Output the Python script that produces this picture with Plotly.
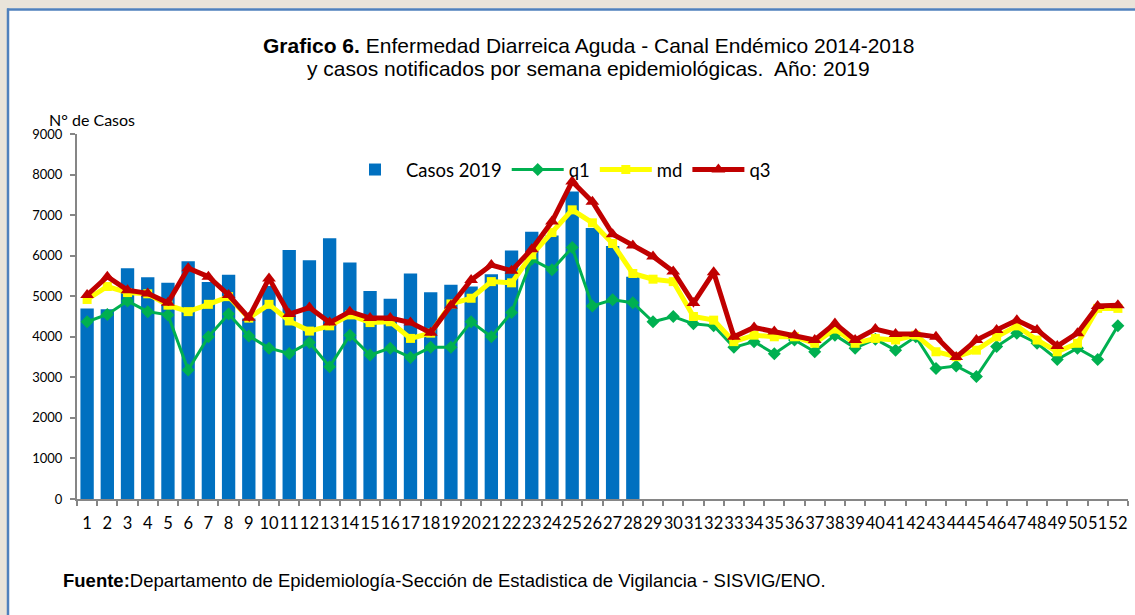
import plotly.graph_objects as go

weeks = [str(i) for i in range(1, 53)]

casos_2019 = [4700, 4680, 5690, 5470, 5330, 5860, 5350, 5530, 4450, 5250,
              6140, 5890, 6430, 5830, 5130, 4940, 5560, 5100, 5280, 5240,
              5540, 6130, 6590, 6500, 7580, 6680, 6240, 5480]

q1 = [4370, 4550, 4880, 4620, 4540, 3180, 4000, 4560, 4020, 3720,
      3590, 3860, 3260, 4040, 3550, 3720, 3490, 3740, 3740, 4370,
      4000, 4600, 5910, 5650, 6200, 4760, 4910, 4840, 4370, 4500,
      4320, 4270, 3740, 3880, 3580, 3920, 3630, 4040, 3720, 3940,
      3670, 4000, 3220, 3280, 3020, 3760, 4090, 3840, 3440, 3720,
      3440, 4270]

md = [4920, 5240, 5090, 5060, 4780, 4620, 4800, 4990, 4460, 4800,
      4390, 4140, 4270, 4540, 4350, 4370, 3960, 4090, 4810, 4950,
      5360, 5330, 6020, 6570, 7130, 6810, 6300, 5560, 5420, 5360,
      4500, 4410, 3880, 4040, 4000, 4000, 3840, 4190, 3840, 3960,
      3920, 4040, 3630, 3510, 3670, 4000, 4270, 3920, 3630, 3840,
      4700, 4700]

q3 = [5030, 5480, 5150, 5070, 4840, 5690, 5480, 5030, 4470, 5440,
      4560, 4720, 4350, 4620, 4460, 4460, 4350, 4100, 4770, 5400,
      5770, 5630, 6160, 6840, 7830, 7330, 6530, 6250, 5980, 5610,
      4830, 5590, 4000, 4230, 4130, 4040, 3920, 4330, 3920, 4190,
      4070, 4070, 4000, 3500, 3920, 4170, 4410, 4170, 3770, 4090,
      4760, 4780]

W, H = 1135, 615
ML, MR, MT, MB = 77, 7, 134, 116
PW = W - ML - MR
PH = H - MT - MB


def px(x):
    return (x - ML) / PW


def py(y):
    return (H - MB - y) / PH


fig = go.Figure()
fig.add_trace(go.Bar(x=weeks[:len(casos_2019)], y=casos_2019, name="Casos 2019",
                     marker=dict(color="#0070C0", line=dict(width=0)), width=0.66))
fig.add_trace(go.Scatter(x=weeks, y=q1, name="q1", mode="lines+markers",
                         line=dict(color="#00B050", width=3),
                         marker=dict(symbol="diamond", size=10, color="#00B050")))
fig.add_trace(go.Scatter(x=weeks, y=md, name="md", mode="lines+markers",
                         line=dict(color="#FFFF00", width=5),
                         marker=dict(symbol="square", size=9, color="#FFFF00")))
fig.add_trace(go.Scatter(x=weeks, y=q3, name="q3", mode="lines+markers",
                         line=dict(color="#C00000", width=5),
                         marker=dict(symbol="triangle-up", size=12, color="#C00000")))

axis_color = "#868686"
fig.update_layout(
    width=W, height=H,
    margin=dict(l=ML, r=MR, t=MT, b=MB, autoexpand=False),
    paper_bgcolor="white", plot_bgcolor="white",
    font=dict(family="Lato, Arial, sans-serif", color="#000000"),
    bargap=0.34,
    showlegend=True,
    legend=dict(orientation="h", x=px(344), y=py(170), xanchor="left", yanchor="middle",
                font=dict(size=18.5, family="Lato"), itemwidth=52,
                bgcolor="rgba(0,0,0,0)", tracegroupgap=0),
    xaxis=dict(type="category", showline=True, linecolor=axis_color, linewidth=2,
               ticks="outside", tickcolor=axis_color, ticklen=5, tickwidth=1.5,
               tickson="boundaries", tickangle=0, showgrid=False,
               tickfont=dict(size=16.5, family="Lato"), ticklabelstandoff=8,
               range=[-0.5, 51.5]),
    yaxis=dict(range=[0, 9000], dtick=1000, showline=True, linecolor=axis_color,
               linewidth=2, ticks="outside", tickcolor=axis_color, ticklen=5,
               tickwidth=1.5, showgrid=False, zeroline=False,
               tickfont=dict(size=13, family="Lato"), ticklabelstandoff=5),
)

shapes = [
    dict(type="rect", xref="paper", yref="paper", x0=px(-5), x1=px(W + 5),
         y0=py(8.5), y1=py(-5), fillcolor="#E9E4DA", line=dict(width=0), layer="below"),
    dict(type="rect", xref="paper", yref="paper", x0=px(-5), x1=px(7),
         y0=py(H + 5), y1=py(-5), fillcolor="#E9E4DA", line=dict(width=0), layer="below"),
    dict(type="line", xref="paper", yref="paper", x0=px(7), x1=px(W + 5),
         y0=py(9.5), y1=py(9.5), line=dict(color="#4F81BD", width=2.5)),
    dict(type="line", xref="paper", yref="paper", x0=px(8), x1=px(8),
         y0=py(8.5), y1=py(H + 5), line=dict(color="#4F81BD", width=2.5)),
]
fig.update_layout(shapes=shapes)

title_font = dict(family="Liberation Sans, Arial", size=21, color="#000000")
annotations = [
    dict(text="<b>Grafico 6.</b> Enfermedad Diarreica Aguda - Canal Endémico 2014-2018",
         xref="paper", yref="paper", x=px(588), y=py(45), xanchor="center", yanchor="middle",
         showarrow=False, font=title_font),
    dict(text="y casos notificados por semana epidemiológicas.  Año: 2019",
         xref="paper", yref="paper", x=px(588), y=py(69), xanchor="center", yanchor="middle",
         showarrow=False, font=title_font),
    dict(text="N° de Casos", xref="paper", yref="paper", x=px(47), y=py(119),
         xanchor="left", yanchor="middle", showarrow=False,
         font=dict(family="Lato", size=16, color="#000000")),
    dict(text="<b>Fuente:</b>Departamento de Epidemiología-Sección de Estadistica de Vigilancia - SISVIG/ENO.",
         xref="paper", yref="paper", x=px(61), y=py(580), xanchor="left", yanchor="middle",
         showarrow=False, font=dict(family="Liberation Sans, Arial", size=18.5, color="#000000")),
]
fig.update_layout(annotations=annotations)

fig.write_html("out.html", config={"displayModeBar": False},
               post_script="document.body.style.margin='0';document.body.style.padding='0';")
